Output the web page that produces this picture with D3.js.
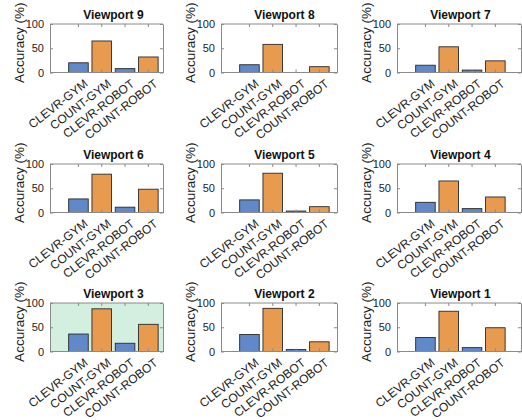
<!DOCTYPE html>
<html>
<head>
<meta charset="utf-8">
<script src="https://cdn.jsdelivr.net/npm/d3@7"></script>
<style>
  html, body { margin: 0; padding: 0; background: #fff; }
  svg { display: block; font-family: "Liberation Sans", Arial, Helvetica, sans-serif; }
</style>
</head>
<body>
<div id="app"></div>
<script>
// categories on the x axis of every panel
const categories = ['CLEVR-GYM', 'COUNT-GYM', 'CLEVR-ROBOT', 'COUNT-ROBOT']
const yTicks = [0, 50, 100]

// accuracy (%) per viewport, same order as categories
const viewport9 = [20, 65, 8, 32]
const viewport8 = [16, 58, 0, 12]
const viewport7 = [15, 53, 5, 24]
const viewport6 = [28, 79, 11, 48]
const viewport5 = [26, 81, 3, 12]
const viewport4 = [21, 65, 8, 32]
const viewport3 = [36, 88, 17, 56]
const viewport2 = [35, 89, 4, 20]
const viewport1 = [29, 83, 8, 49]

// grid order, left to right, top to bottom
const viewportOrder = [9, 8, 7, 6, 5, 4, 3, 2, 1]
const viewportValues = [viewport9, viewport8, viewport7, viewport6, viewport5, viewport4, viewport3, viewport2, viewport1]
const highlighted = 3

const W = 522
const H = 420
const colLeft = [50, 221, 397]
const colRight = [163, 337, 521]
const rowTop = [24, 164, 303]
const plotH = 48.5

const blue = '#6188c9'
const orange = '#e89a4f'
const barColor = (c) => (c.startsWith('CLEVR') ? blue : orange)

const svg = d3.select('#app').append('svg').attr('width', W).attr('height', H)

viewportOrder.forEach((vp, i) => {
  const col = i % 3
  const row = Math.floor(i / 3)
  const left = colLeft[col]
  const right = colRight[col]
  const top = rowTop[row]
  const bottom = top + plotH
  const values = viewportValues[i]

  const x = d3
    .scaleBand()
    .domain(categories)
    .range([left + 16.8, left + 16.8 + 4 * 23.3])
    .paddingInner(0.16)
    .paddingOuter(0.08)
  const y = d3.scaleLinear().domain([0, 100]).range([bottom, top])

  const g = svg.append('g')

  g.append('rect')
    .attr('x', left)
    .attr('y', top)
    .attr('width', right - left)
    .attr('height', plotH)
    .attr('fill', vp === highlighted ? '#d3efdf' : '#fff')

  g.selectAll('rect.bar')
    .data(values.map((v, k) => ({ cat: categories[k], v })))
    .join('rect')
    .attr('class', 'bar')
    .attr('x', (d) => x(d.cat))
    .attr('y', (d) => y(d.v))
    .attr('width', x.bandwidth())
    .attr('height', (d) => y(0) - y(d.v))
    .attr('fill', (d) => barColor(d.cat))
    .attr('stroke', '#2a2a2a')
    .attr('stroke-width', 0.9)

  // box + inward ticks on all sides
  const styleAxis = (sel) => {
    sel.select('.domain').attr('stroke', '#8a8a8a')
    sel.selectAll('.tick line').attr('stroke', '#8a8a8a')
  }
  g.append('g')
    .attr('transform', `translate(${left},0)`)
    .call(d3.axisLeft(y).tickValues(yTicks).tickSize(-3).tickSizeOuter(0).tickPadding(6))
    .call(styleAxis)
    .call((a) => a.selectAll('text').attr('font-size', 11).attr('fill', '#222'))
  g.append('g')
    .attr('transform', `translate(${right},0)`)
    .call(d3.axisRight(y).tickValues(yTicks).tickSize(-3).tickSizeOuter(0).tickFormat(''))
    .call(styleAxis)
  g.append('g')
    .attr('transform', `translate(0,${top})`)
    .call(d3.axisTop(x).tickSize(-3).tickSizeOuter(0).tickFormat(''))
    .call(styleAxis)
    .call((a) => a.select('.domain').attr('d', `M${left},0H${right}`))
  g.append('g')
    .attr('transform', `translate(0,${bottom})`)
    .call(d3.axisBottom(x).tickSize(-3).tickSizeOuter(0))
    .call(styleAxis)
    .call((a) => a.select('.domain').attr('d', `M${left},0H${right}`))
    .call((a) =>
      a
        .selectAll('text')
        .attr('font-size', 12)
        .attr('fill', '#222')
        .attr('text-anchor', 'end')
        .attr('x', 5)
        .attr('y', 6)
        .attr('dy', '0.7em')
        .attr('transform', 'rotate(-38 5 6)')
    )

  const mid = (x(categories[0]) + x(categories[3]) + x.bandwidth()) / 2
  g.append('text')
    .attr('x', mid)
    .attr('y', top - 5)
    .attr('text-anchor', 'middle')
    .attr('font-size', 12)
    .attr('font-weight', 'bold')
    .attr('fill', '#111')
    .text(`Viewport ${vp}`)

  g.append('text')
    .attr('transform', `translate(${left - 26},${(top + bottom) / 2 - 5.5}) rotate(-90)`)
    .attr('text-anchor', 'middle')
    .attr('font-size', 13.5)
    .attr('fill', '#222')
    .text('Accuracy (%)')
})
</script>
</body>
</html>
